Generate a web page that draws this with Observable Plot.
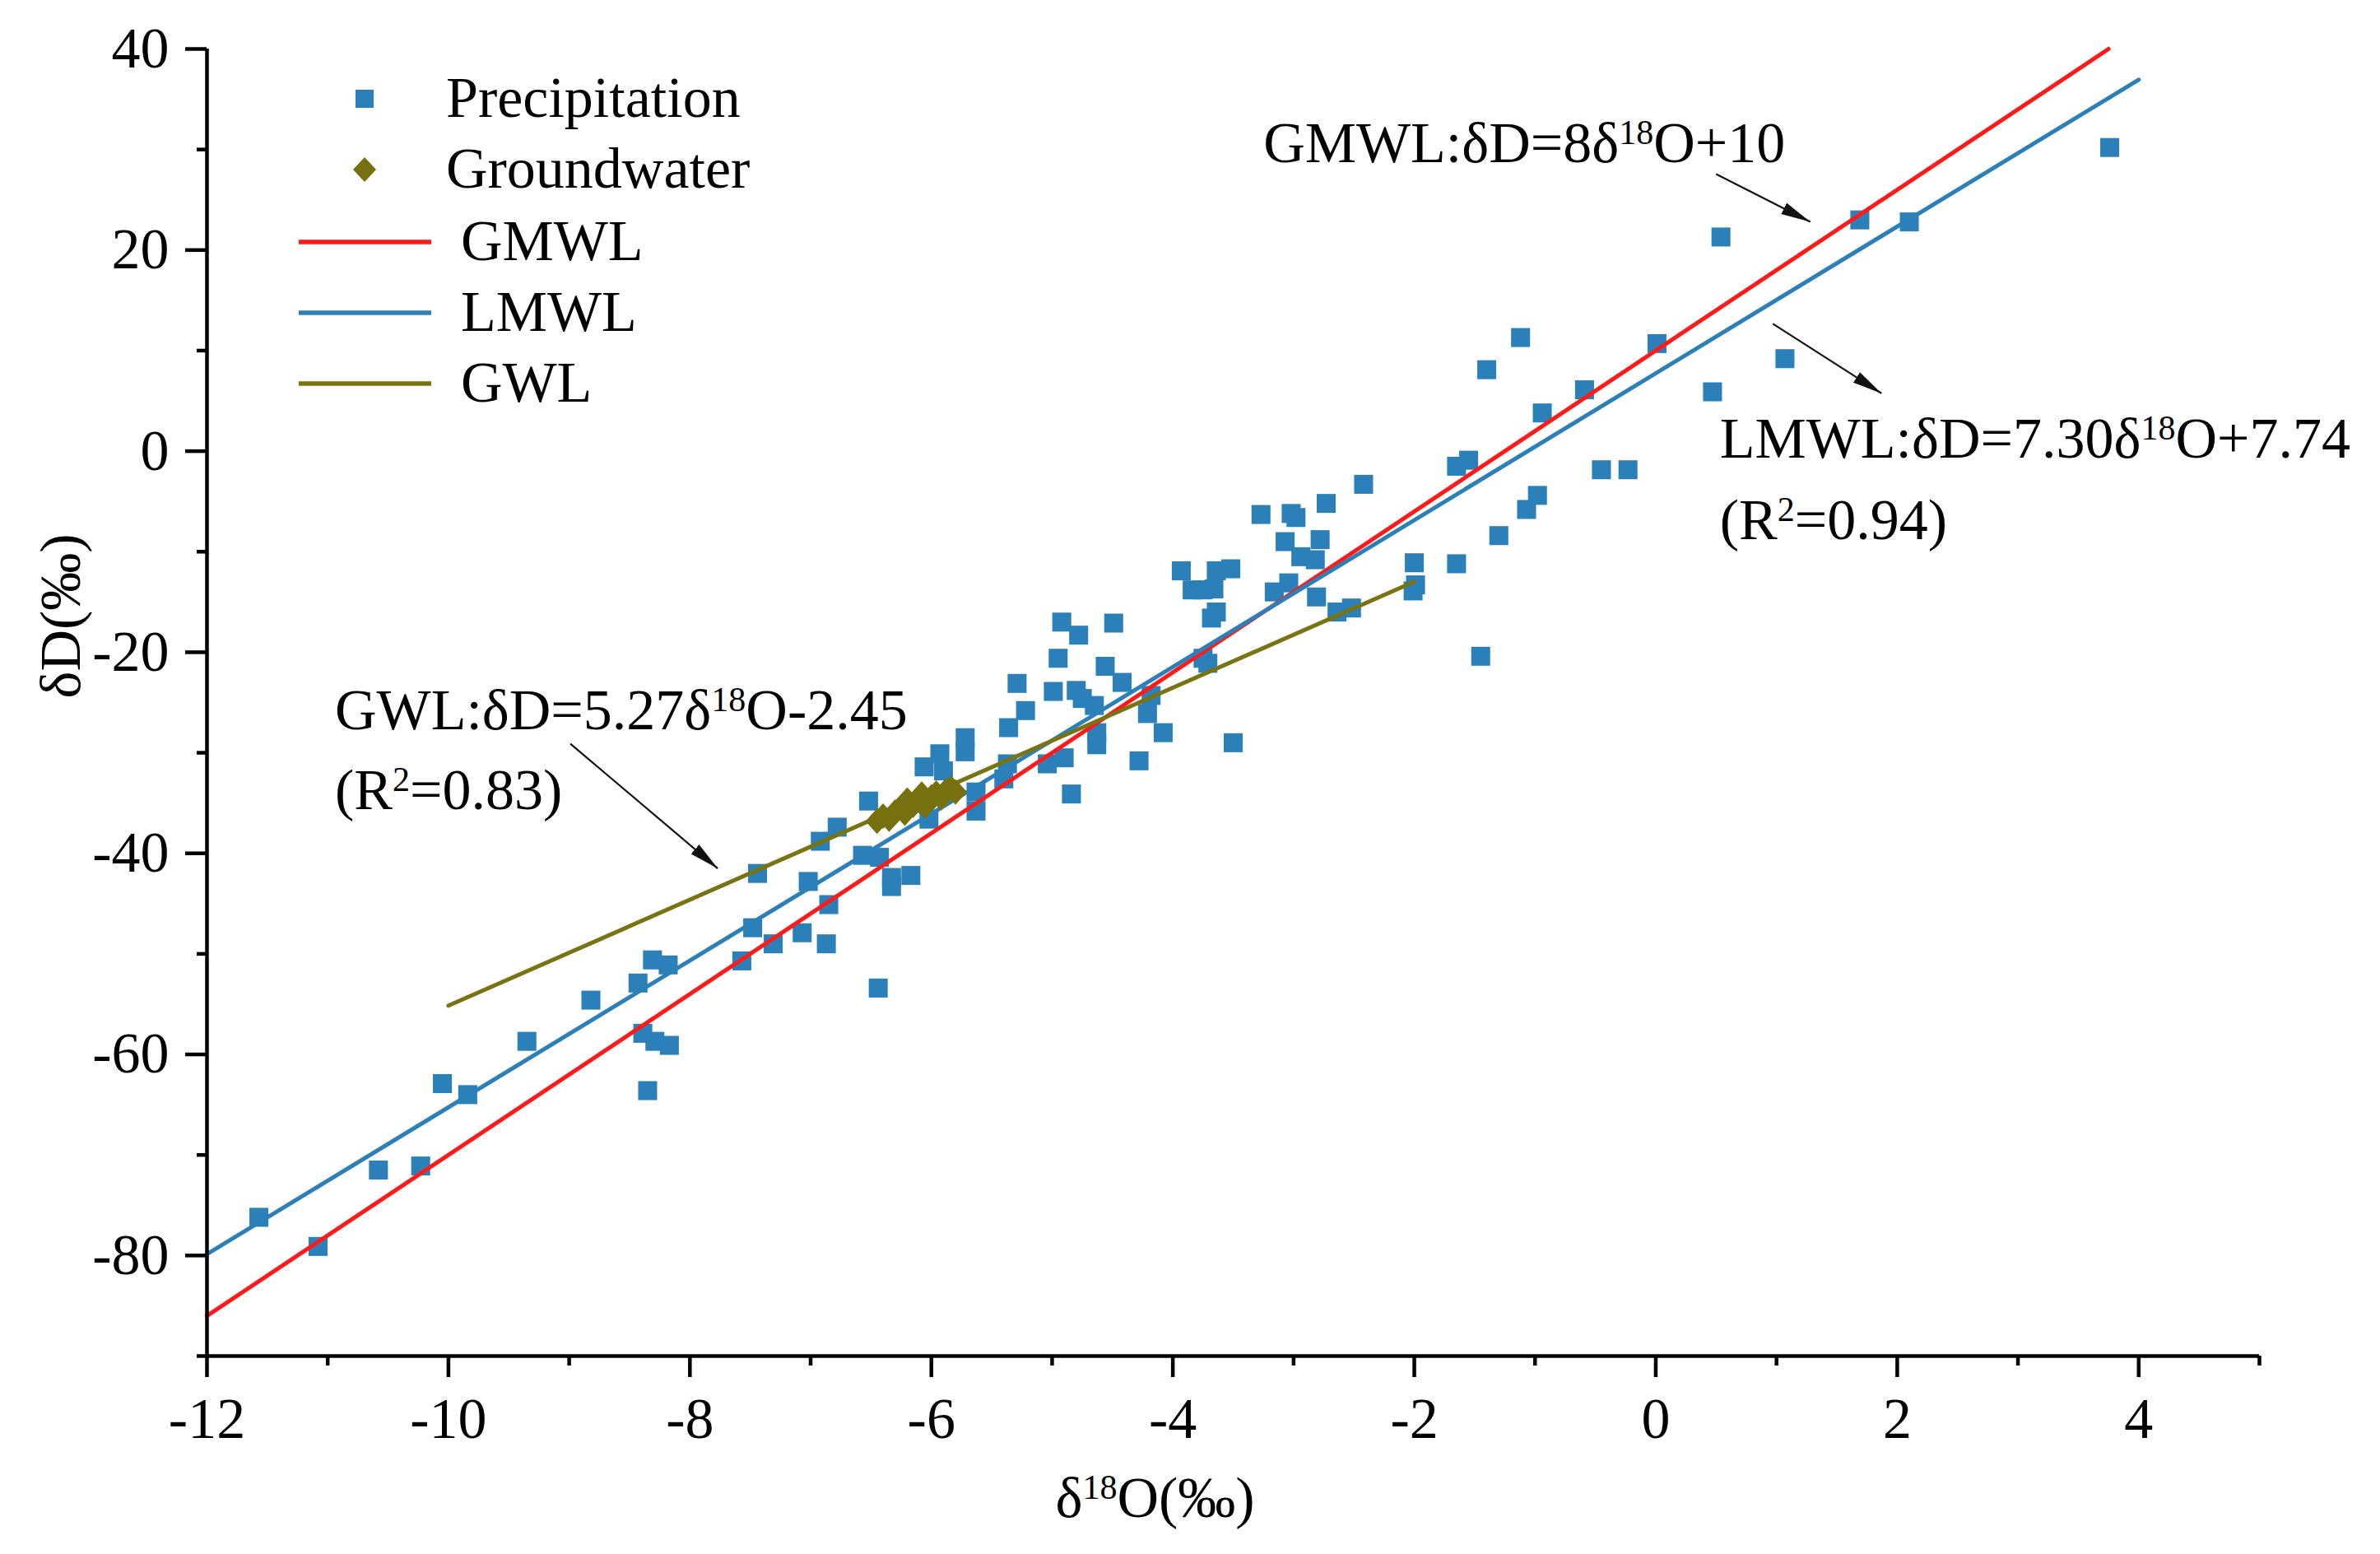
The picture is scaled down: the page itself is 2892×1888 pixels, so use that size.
<!DOCTYPE html>
<html>
<head>
<meta charset="utf-8">
<script src="https://cdn.jsdelivr.net/npm/d3@7"></script>
<script src="https://cdn.jsdelivr.net/npm/@observablehq/plot@0.6"></script>
<style>
  html, body { margin: 0; padding: 0; background: #fff; }
  #chart { width: 2892px; height: 1888px; }
  #chart svg text { font-family: 'Liberation Serif', 'Times New Roman', Times, serif; }
</style>
</head>
<body>
<div id="chart"></div>
<script>
// ---------- data ----------
const precipO = [-11.57,-11.08,-10.58,-10.23,-10.05,-9.84,-9.35,-8.82,-8.43,-8.31,-8.18,-8.39,-8.29,-8.17,-8.35,
  -7.57,-7.48,-7.44,-7.31,-7.07,-7.02,-6.85,-6.87,-6.44,-6.57,-6.43,-6.33,-6.33,-6.17,-6.92,-6.78,-6.52,-6.02,
  -5.63,-5.63,-6.06,-5.90,-5.93,-5.72,-5.72,-5.37,-5.40,-4.84,-5.04,-4.90,-4.28,-4.63,-4.63,-5.36,-4.08,-4.21,
  -5.22,-4.65,-4.75,-4.80,-4.99,-4.18,-5.29,-4.42,-4.56,-4.95,-4.49,-4.78,-4.92,
  -3.93,-3.84,-3.75,-3.66,-3.64,-3.52,-3.68,-3.64,-3.75,-3.71,-3.50,-3.16,-3.04,-3.07,-2.78,-2.94,-2.82,
  -3.27,-3.02,-2.98,-2.73,-2.42,-2.81,-2.64,-2.52,-2.00,-1.99,-2.01,-1.65,-1.45,-1.30,-1.07,-0.98,-1.55,-1.65,
  -0.94,-1.40,-1.12,-0.59,-0.45,-0.23,0.01,0.47,0.54,1.07,1.69,2.10,3.76];
const precipD = [-76.2,-79.1,-71.5,-71.1,-62.9,-64.0,-58.7,-54.6,-52.9,-50.6,-51.1,-57.9,-58.7,-59.1,-63.6,
  -50.7,-47.4,-42.0,-49.0,-47.9,-42.8,-45.1,-49.0,-53.4,-40.2,-40.4,-42.4,-43.3,-42.2,-38.8,-37.4,-34.8,-36.6,
  -33.9,-35.8,-31.4,-31.8,-30.1,-28.5,-29.9,-31.1,-32.6,-34.1,-31.1,-30.5,-30.8,-28.0,-29.2,-27.5,-28.0,-26.1,
  -25.8,-25.3,-24.6,-23.8,-23.9,-24.3,-23.1,-23.0,-21.4,-20.6,-17.1,-18.3,-17.0,
  -11.9,-13.8,-13.8,-13.7,-11.9,-11.7,-16.6,-16.0,-20.6,-21.1,-29.0,-14.0,-13.1,-9.0,-8.8,-10.5,-10.8,
  -6.3,-6.2,-6.6,-5.2,-3.3,-14.5,-16.0,-15.6,-11.1,-13.3,-13.9,-11.2,-20.4,-8.4,-5.8,-4.4,-0.9,-1.5,
  3.8,8.1,11.3,6.1,-1.85,-1.85,10.7,5.9,21.3,9.2,23.0,22.8,30.2];

const gwO = [-6.45,-6.40,-6.35,-6.30,-6.25,-6.22,-6.20,-6.15,-6.10,-6.08,-6.05,-6.00,-5.96,-5.92,-5.88,-5.84,-5.80];
const gwD = [-36.8,-36.3,-36.6,-35.9,-35.5,-36.0,-34.7,-35.2,-34.8,-34.1,-35.3,-34.4,-34.0,-34.5,-33.8,-33.5,-33.9];

// regression / meteoric water lines (equations printed on the chart)
const lineNames = ["GMWL", "LMWL", "GWL"];
const lineSlopes = [8, 7.30, 5.27];
const lineIntercepts = [10, 7.74, -2.45];
const lineStart = [-12, -12, -10];
const lineEnd = [3.75, 4, -2];
const lineColors = ["#ff1a1a", "#2b80b9", "#7a7312"];

const precipColor = "#2b80b9";
const gwColor = "#77700f";

// axes
const xMajor = [-12, -10, -8, -6, -4, -2, 0, 2, 4];
const xMinor = [-11, -9, -7, -5, -3, -1, 1, 3, 5];
const yMajor = [40, 20, 0, -20, -40, -60, -80];
const yMinor = [30, 10, -10, -30, -50, -70, -90];
const xTitle = "δ^18^O(‰)";
const yTitle = "δD(‰)";

// annotations
const annTexts = ["GMWL:δD=8δ^18^O+10", "LMWL:δD=7.30δ^18^O+7.74", "(R^2^=0.94)", "GWL:δD=5.27δ^18^O-2.45", "(R^2^=0.83)"];
const annX = [-3.25, 0.53, 0.53, -10.94, -10.94];
const annY = [30.6, 1.2, -6.9, -25.8, -33.8];
const arrowX1 = [0.50, 0.97, -8.99];
const arrowY1 = [27.56, 12.67, -29.1];
const arrowX2 = [1.28, 1.87, -7.77];
const arrowY2 = [22.8, 5.75, -41.5];

// legend
const legendLabels = ["Precipitation", "Groundwater", "GMWL", "LMWL", "GWL"];
const legendKinds = ["square", "diamond", "line", "line", "line"];
const legendColors = [precipColor, gwColor, lineColors[0], lineColors[1], lineColors[2]];

// ---------- tables ----------
const precip = precipO.map((o, i) => ({o, d: precipD[i]}));
const gw = gwO.map((o, i) => ({o, d: gwD[i]}));
const lineTable = lineNames.flatMap((name, i) => [lineStart[i], lineEnd[i]].map(o => ({name, o, d: lineSlopes[i] * o + lineIntercepts[i]})));
const ann = annTexts.map((t, i) => ({t, x: annX[i], y: annY[i]}));
const arrows = arrowX1.map((x1, i) => ({x1, y1: arrowY1[i], x2: arrowX2[i], y2: arrowY2[i]}));

const FONT = "'Liberation Serif', 'Times New Roman', Times, serif";
const FS = 70;

const diamond = {
  draw(ctx, size) {
    const h = Math.sqrt(size / 2);
    ctx.moveTo(0, -h * 1.05);
    ctx.lineTo(h * 0.95, 0);
    ctx.lineTo(0, h * 1.05);
    ctx.lineTo(-h * 0.95, 0);
    ctx.closePath();
  }
};

const txt = {fontFamily: FONT, fontSize: FS, fill: "#000"};

const svgEl = Plot.plot({
  width: 2892,
  height: 1888,
  marginLeft: 251,
  marginRight: 147,
  marginTop: 59,
  marginBottom: 241,
  x: {domain: [-12, 5]},
  y: {domain: [-90, 40]},
  color: {domain: lineNames, range: lineColors},
  style: {fontFamily: FONT, fontSize: FS + "px", color: "#000", background: "#fff"},
  marks: [
    Plot.dot(precip, {x: "o", y: "d", symbol: "square", r: 13, fill: precipColor, stroke: "none"}),
    Plot.line(lineTable, {x: "o", y: "d", z: "name", stroke: "name", strokeWidth: 5}),
    Plot.dot(gw, {x: "o", y: "d", symbol: diamond, r: 11.8, fill: gwColor, stroke: "none"}),
    Plot.link(arrows, {x1: "x1", y1: "y1", x2: "x2", y2: "y2", stroke: "#111", strokeWidth: 2.2}),
    Plot.text(ann, {x: "x", y: "y", text: "t", textAnchor: "start", lineAnchor: "middle", ...txt}),
    // axes
    Plot.axisX({ticks: xMajor, tickSize: 26, tickPadding: 24, strokeWidth: 4.5, tickFormat: d => String(d), label: null, ...txt}),
    Plot.axisX({ticks: xMinor, tickSize: 12, strokeWidth: 4.5, tickFormat: () => "", label: null}),
    Plot.axisY({ticks: yMajor, tickSize: 26, tickPadding: 20, strokeWidth: 4.5, tickFormat: d => String(d), label: null, ...txt}),
    Plot.axisY({ticks: yMinor, tickSize: 12, strokeWidth: 4.5, tickFormat: () => "", label: null}),
    Plot.ruleX([-12], {stroke: "#000", strokeWidth: 4.5}),
    Plot.ruleY([-90], {stroke: "#000", strokeWidth: 4.5}),
    // axis titles
    Plot.text([xTitle], {frameAnchor: "bottom", dx: -95, dy: 173, lineAnchor: "middle", ...txt}),
    Plot.text([yTitle], {frameAnchor: "left", dx: -177, dy: -5, rotate: -90, lineAnchor: "middle", ...txt})
  ]
});

const NS = "http://www.w3.org/2000/svg";
const svg = d3.select(svgEl);

// arrowheads (filled triangles)
const defs = svg.insert("defs", ":first-child");
defs.append("marker")
  .attr("id", "ahead")
  .attr("markerUnits", "userSpaceOnUse")
  .attr("markerWidth", 40).attr("markerHeight", 18)
  .attr("viewBox", "0 0 40 18")
  .attr("refX", 36).attr("refY", 9)
  .attr("orient", "auto")
  .append("path").attr("d", "M0,1.5 L36,9 L0,16.5 Z").attr("fill", "#111");
svg.selectAll('g[aria-label="link"] path').attr("marker-end", "url(#ahead)");

// legend drawn inside the frame
const lg = svg.append("g").attr("font-family", FONT).attr("font-size", FS).attr("text-anchor", "start");
const legY = [120, 206, 294, 380, 466];
legendLabels.forEach((label, i) => {
  const y = legY[i];
  const kind = legendKinds[i];
  if (kind === "square") {
    lg.append("rect").attr("x", 443 - 11).attr("y", y - 11).attr("width", 22).attr("height", 22).attr("fill", legendColors[i]);
  } else if (kind === "diamond") {
    lg.append("path").attr("d", `M443,${y - 15} L457,${y} L443,${y + 15} L429,${y} Z`).attr("fill", legendColors[i]);
  } else {
    lg.append("line").attr("x1", 363).attr("x2", 524).attr("y1", y).attr("y2", y)
      .attr("stroke", legendColors[i]).attr("stroke-width", 5.5);
  }
  lg.append("text").attr("x", kind === "line" ? 560 : 542).attr("y", y).attr("dy", "0.32em")
    .attr("text-anchor", "start").attr("fill", "#000").text(label);
});

// superscripts: text marked as a^b^c -> b raised and smaller
function applySup(root) {
  root.querySelectorAll("text").forEach(t => {
    const targets = t.querySelector("tspan") ? [...t.querySelectorAll("tspan")] : [t];
    targets.forEach(el => {
      const s = el.textContent;
      if (!s.includes("^")) return;
      const parts = s.split("^");
      while (el.firstChild) el.removeChild(el.firstChild);
      let raised = false;
      parts.forEach((p, i) => {
        const ts = document.createElementNS(NS, "tspan");
        ts.textContent = p;
        if (i % 2 === 1) {
          ts.setAttribute("font-size", (FS * 0.6) + "px");
          ts.setAttribute("dy", "-22");
          raised = true;
        } else if (raised) {
          ts.setAttribute("dy", "22");
          raised = false;
        }
        if (p.length) el.appendChild(ts);
      });
    });
  });
}
applySup(svgEl);

document.getElementById("chart").appendChild(svgEl);
</script>
</body>
</html>
